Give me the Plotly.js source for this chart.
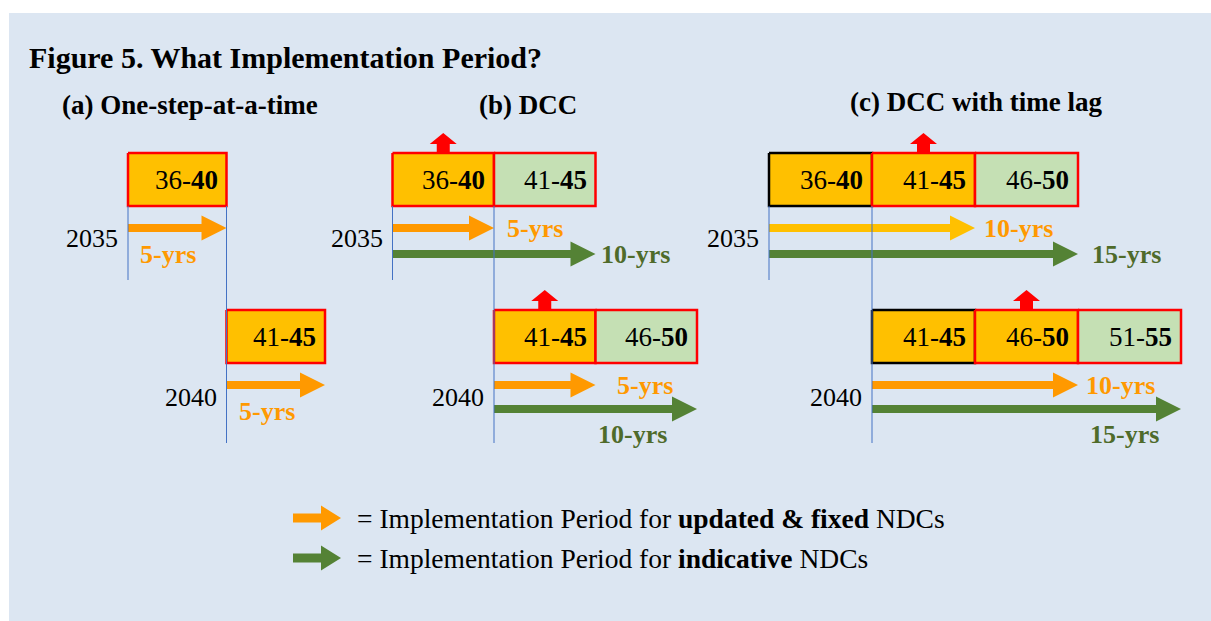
<!DOCTYPE html>
<html>
<head>
<meta charset="utf-8">
<script src="https://cdn.plot.ly/plotly-3.0.1.min.js"></script>
<style>
  body { margin: 0; }
</style>
</head>
<body>
<div id="plot"></div>
<script>
// ---- data ----
var panelTitles = ["(a) One-step-at-a-time", "(b) DCC", "(c) DCC with time lag"];
var rowYears = [2035, 2040];

// NDC periods shown in each panel, one list per submission year
var periodLabels = [
  [["36-40"], ["41-45"]],
  [["36-40", "41-45"], ["41-45", "46-50"]],
  [["36-40", "41-45", "46-50"], ["41-45", "46-50", "51-55"]]
];
// done = already fixed earlier, fixed = updated & fixed, indicative
var periodStatus = [
  [["fixed"], ["fixed"]],
  [["fixed", "indicative"], ["fixed", "indicative"]],
  [["done", "fixed", "indicative"], ["done", "fixed", "indicative"]]
];
// implementation period lengths (years) per panel
var fixedPeriodYrs = [5, 5, 10];
var indicativePeriodYrs = [null, 10, 15];
// panels where the fixed NDC is an update of an earlier indicative one
var updateMark = [false, true, true];

var legendTexts = [
  "= Implementation Period for <b>updated &amp; fixed</b> NDCs",
  "= Implementation Period for <b>indicative</b> NDCs"
];

// ---- styles ----
var FONT = "Liberation Serif";
var ORANGE = "#FF9900", YELLOW = "#FFC000", GREEN = "#548235", GREEN_TXT = "#4F6B2A";
var boxFill = { done: "#FFC000", fixed: "#FFC000", indicative: "#C5E0B4" };
var boxLine = { done: "#000000", fixed: "#FF0000", indicative: "#FF0000" };
var fixedArrowColor = [[ORANGE, ORANGE], [ORANGE, ORANGE], [YELLOW, ORANGE]];
// where each arrow label goes: [fixed, indicative] per row, with pixel shift
var labelPlace = [
  [["belowL"], ["belowL"]],
  [["right", "right"], ["right", "belowR"]],
  [["right", "right"], ["right", "belowR"]]
];
var labelShift = [
  [[10], [10]],
  [[11, 3], [19, -28]],
  [[7, 12], [6, -20]]
];
var pxPerYr = [19.7, 20.3, 20.6];
var x2035 = [128, 392.5, 769];
var W = 1211, H = 621;
var boxTop = [153, 310], boxH = 53;
var arrowY = [[228, 254], [385, 409]];
var yearLabelY = [238, 397];
var axNames = ["x", "x2", "x3"];

var traces = [];
var annotations = [];

function poly(xs, ys, ax, fill, line, lw) {
  traces.push({
    x: xs, y: ys, xaxis: ax, yaxis: "y", mode: "lines", fill: "toself",
    fillcolor: fill, line: { color: line || fill, width: lw || 0 },
    hoverinfo: "skip", showlegend: false
  });
}

function arrow(x0, x1, yc, s, ax, color) {
  var hl = 25 / s, sh = 4, hh = 12.5;
  poly([x0, x1 - hl, x1 - hl, x1, x1 - hl, x1 - hl, x0, x0],
       [yc - sh, yc - sh, yc - hh, yc, yc + hh, yc + sh, yc + sh, yc - sh], ax, color);
}

function upArrow(xc, yb, s, ax) {
  var hw = 13.5 / s, sw = 6.5 / s;
  poly([xc - sw, xc - sw, xc - hw, xc, xc + hw, xc + sw, xc + sw, xc - sw],
       [yb, yb - 8, yb - 8, yb - 19, yb - 8, yb - 8, yb, yb], ax, "#FF0000");
}

function text(x, y, t, opts) {
  annotations.push({
    x: x, y: y, xref: opts.xref || "paper", yref: "y", text: t, showarrow: false,
    xanchor: opts.xanchor || "left", yanchor: "middle", xshift: opts.xshift || 0,
    font: { family: FONT, size: opts.size || 26, color: opts.color || "#000000" }
  });
}

var layout = {
  width: W, height: H, autosize: false,
  margin: { l: 0, r: 0, t: 0, b: 0, pad: 0 },
  paper_bgcolor: "#ffffff", plot_bgcolor: "rgba(0,0,0,0)",
  showlegend: false, hovermode: false,
  yaxis: { range: [H, 0], visible: false, fixedrange: true },
  xaxis4: { range: [0, W], visible: false, overlaying: "x", anchor: "y", fixedrange: true },
  shapes: [{
    type: "rect", xref: "paper", yref: "paper", x0: 9 / W, x1: 1, y0: 0, y1: (H - 13) / H,
    fillcolor: "#DCE6F2", line: { width: 0 }, layer: "below"
  }],
  annotations: annotations
};

panelTitles.forEach(function (title, p) {
  var s = pxPerYr[p], ax = axNames[p];
  var axKey = p === 0 ? "xaxis" : "xaxis" + (p + 1);
  layout[axKey] = {
    range: [2035 - x2035[p] / s, 2035 + (W - x2035[p]) / s],
    visible: false, fixedrange: true, anchor: "y"
  };
  if (p > 0) layout[axKey].overlaying = "x";

  rowYears.forEach(function (yr, r) {
    // arrows
    var lengths = [fixedPeriodYrs[p], indicativePeriodYrs[p]];
    var colors = [fixedArrowColor[p][r], GREEN];
    var txtColors = [ORANGE, GREEN_TXT];
    lengths.forEach(function (len, k) {
      if (len === null) return;
      var yc = arrowY[r][k], end = yr + len;
      arrow(yr, end, yc, s, ax, colors[k]);
      var place = labelPlace[p][r][k], sh = labelShift[p][r][k];
      var lbl = "<b>" + len + "-yrs</b>";
      if (place === "right") {
        text(end, yc, lbl, { xref: ax, xshift: sh, color: txtColors[k] });
      } else if (place === "belowL") {
        text(yr, yc + 26, lbl, { xref: ax, xshift: sh, color: txtColors[k] });
      } else {
        text(end, yc + 25, lbl, { xref: ax, xanchor: "right", xshift: sh, color: txtColors[k] });
      }
    });

    // period boxes
    periodLabels[p][r].forEach(function (lab, i) {
      var parts = lab.split("-");
      var y0 = 2000 + Number(parts[0]) - 1, y1 = 2000 + Number(parts[1]);
      var st = periodStatus[p][r][i];
      var t = boxTop[r], b = boxTop[r] + boxH;
      poly([y0, y1, y1, y0, y0], [t, t, b, b, t], ax, boxFill[st], boxLine[st], 2.5);
      text(y1, t + boxH / 2, parts[0] + "-<b>" + parts[1] + "</b>",
           { xref: ax, xanchor: "right", xshift: -7, size: 27 });
      if (st === "fixed" && updateMark[p]) upArrow((y0 + y1) / 2, t - 1, s, ax);
    });

    // year label
    text(yr, yearLabelY[r], String(yr), { xref: ax, xanchor: "right", xshift: -8 });
  });

  // submission year guide lines
  var b1 = boxTop[0] + boxH;
  traces.push({
    x: [rowYears[0], rowYears[0], null, rowYears[1], rowYears[1]],
    y: [b1, 280, null, b1, 443], xaxis: ax, yaxis: "y", mode: "lines",
    line: { color: "#4472C4", width: 1 }, hoverinfo: "skip", showlegend: false
  });
});

// panel titles and main title
var panelTitleX = [190, 528, 976];
var panelTitleY = [105, 105, 102];
panelTitles.forEach(function (t, p) {
  text(panelTitleX[p] / W, panelTitleY[p], "<b>" + t + "</b>", { xanchor: "center", size: 27 });
});
text(27 / W, 57, "<b>Figure 5. What Implementation Period?</b>", { size: 30 });

// legend
var legendColors = [ORANGE, GREEN];
legendTexts.forEach(function (t, i) {
  var yc = 518 + 40 * i;
  var hl = 20, sh = 4.5, hh = 12.5, x0 = 293, x1 = 341;
  traces.push({
    x: [x0, x1 - hl, x1 - hl, x1, x1 - hl, x1 - hl, x0, x0],
    y: [yc - sh, yc - sh, yc - hh, yc, yc + hh, yc + sh, yc + sh, yc - sh],
    xaxis: "x4", yaxis: "y", mode: "lines", fill: "toself",
    fillcolor: legendColors[i], line: { width: 0, color: legendColors[i] },
    hoverinfo: "skip", showlegend: false
  });
  text(355 / W, yc, t, { size: 27.5 });
});

Plotly.newPlot("plot", traces, layout, { displayModeBar: false });
</script>
</body>
</html>
